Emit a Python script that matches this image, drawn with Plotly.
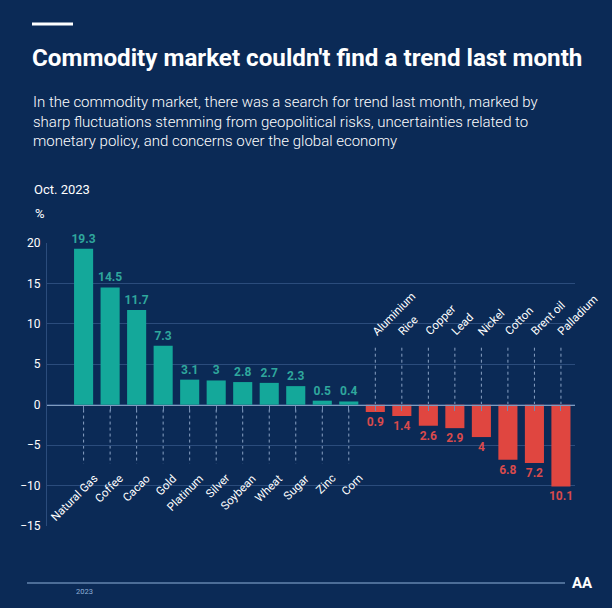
import plotly.graph_objects as go

categories = ["Natural Gas", "Coffee", "Cacao", "Gold", "Platinum", "Silver", "Soybean",
              "Wheat", "Sugar", "Zinc", "Corn", "Aluminium", "Rice", "Copper", "Lead",
              "Nickel", "Cotton", "Brent oil", "Palladium"]
values = [19.3, 14.5, 11.7, 7.3, 3.1, 3, 2.8, 2.7, 2.3, 0.5, 0.4,
          -0.9, -1.4, -2.6, -2.9, -4, -6.8, -7.2, -10.1]
y_ticks = [20, 15, 10, 5, 0, -5, -10, -15]

BG = "#0b2a56"
TEAL = "#14a89a"
RED = "#e04640"
TEAL_TXT = "#2fa79d"
RED_TXT = "#d94a4c"
GRID = "#2b4c7c"
FONT = "Roboto"

pl, pr, pt, pb = 47, 37, 243, 82
pw, ph = 612 - pl - pr, 608 - pt - pb


def px(x):
    return (x - pl) / pw


def py(y):
    return (608 - pb - y) / ph


n = len(categories)
xs = list(range(n))
colors = [TEAL if v >= 0 else RED for v in values]
txtcolors = [TEAL_TXT if v >= 0 else RED_TXT for v in values]
texts = [f"<b>{abs(v):g}</b>" for v in values]

fig = go.Figure()
fig.add_trace(go.Bar(
    x=xs, y=values, marker=dict(color=colors, line=dict(width=0)),
    text=texts, textposition="outside", cliponaxis=False, constraintext="none",
    textfont=dict(family=FONT, size=12, color=txtcolors),
    width=0.72, hoverinfo="skip",
))

shapes = []
annotations = []
for i, (c, v) in enumerate(zip(categories, values)):
    if v >= 0:
        shapes.append(dict(type="line", xref="x", yref="y", x0=i, x1=i, y0=-0.6, y1=-7.3,
                           line=dict(color="#8aa2c4", width=1, dash="dot"), layer="below"))
        annotations.append(dict(x=i, y=-7.9, xref="x", yref="y", text=c, showarrow=False,
                                textangle=-45, xanchor="right", yanchor="top", xshift=19,
                                font=dict(family=FONT, size=11.5, color="white")))
    else:
        shapes.append(dict(type="line", xref="x", yref="y", x0=i, x1=i, y0=0, y1=7.1,
                           line=dict(color="#8aa2c4", width=1, dash="dot"), layer="below"))
        annotations.append(dict(x=i, y=7.9, xref="x", yref="y", text=c, showarrow=False,
                                textangle=-45, xanchor="left", yanchor="bottom", xshift=-9,
                                font=dict(family=FONT, size=11.5, color="white")))

shapes.append(dict(type="line", xref="paper", yref="paper", x0=px(32), x1=px(73),
                   y0=py(24), y1=py(24), line=dict(color="white", width=3)))
shapes.append(dict(type="line", xref="paper", yref="paper", x0=px(27), x1=px(565),
                   y0=py(583), y1=py(583), line=dict(color="#8fb0d8", width=1)))

annotations += [
    dict(x=px(30), y=py(58), xref="paper", yref="paper", xanchor="left", yanchor="middle",
         text="<b>Commodity market couldn't find a trend last month</b>", showarrow=False,
         font=dict(family=FONT, size=24.2, color="white", weight=900)),
    dict(x=px(31), y=py(121), xref="paper", yref="paper", xanchor="left", yanchor="middle",
         align="left",
         text="In the commodity market, there was a search for trend last month, marked by<br>"
              "sharp fluctuations stemming from geopolitical risks, uncertainties related to<br>"
              "monetary policy, and concerns over the global economy",
         showarrow=False, font=dict(family=FONT, size=15, color="white", weight=300)),
    dict(x=px(32), y=py(189), xref="paper", yref="paper", xanchor="left", yanchor="middle",
         text="Oct. 2023", showarrow=False, font=dict(family=FONT, size=13, color="white")),
    dict(x=px(33), y=py(214), xref="paper", yref="paper", xanchor="left", yanchor="middle",
         text="%", showarrow=False, font=dict(family=FONT, size=13, color="white")),
    dict(x=px(74), y=py(591), xref="paper", yref="paper", xanchor="left", yanchor="middle",
         text="2023", showarrow=False, font=dict(family=FONT, size=7.5, color="#8fb0d8")),
    dict(x=px(582), y=py(583), xref="paper", yref="paper", xanchor="center", yanchor="middle",
         text="<b>AA</b>", showarrow=False, font=dict(family=FONT, size=15, color="white")),
]

fig.update_layout(
    width=612, height=608,
    paper_bgcolor=BG, plot_bgcolor=BG,
    margin=dict(l=pl, r=pr, t=pt, b=pb),
    showlegend=False,
    shapes=shapes, annotations=annotations,
    xaxis=dict(range=[-1.38, 18.53], showgrid=False, zeroline=False,
               showticklabels=False, ticks="outside", tickson="boundaries",
               tickvals=xs, ticklen=5, tickcolor="#6f8bb3", tickwidth=1,
               showline=True, linecolor="#7f9bbf", linewidth=1,
               anchor="free", position=15 / 35),
    yaxis=dict(range=[-15, 20], tickvals=y_ticks, showgrid=True, gridcolor=GRID,
               gridwidth=1, zeroline=False, showline=True, linecolor=GRID,
               tickfont=dict(family=FONT, size=12, color="white"), ticks="",
               ticklabelstandoff=3),
    bargap=0.28,
)

fig.write_html("out.html", config={"displayModeBar": False},
               post_script="document.body.style.margin='0';document.body.style.overflow='hidden';")
